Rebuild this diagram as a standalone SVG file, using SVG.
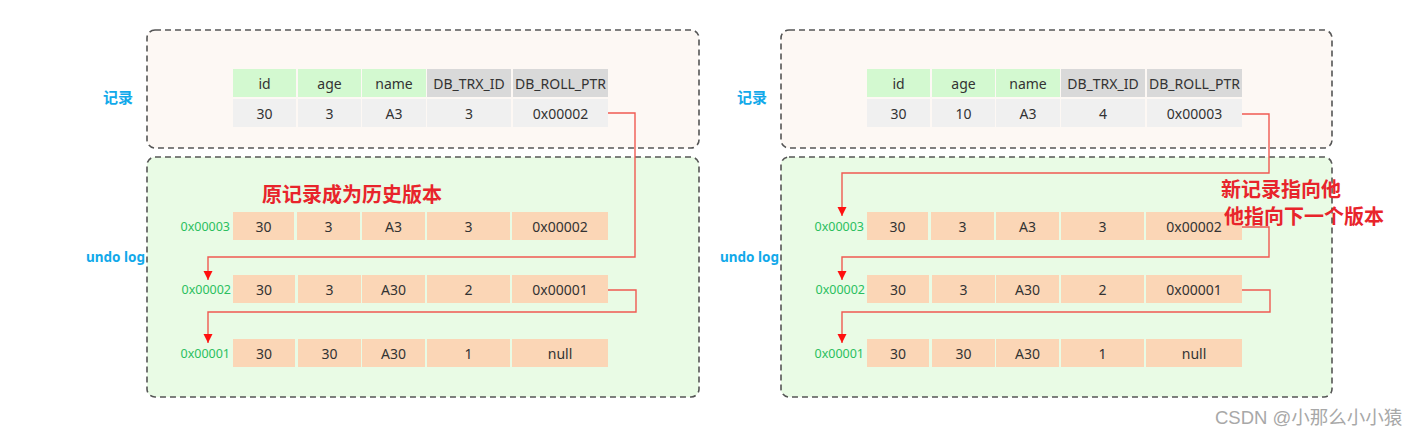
<svg xmlns="http://www.w3.org/2000/svg" width="1422" height="436" viewBox="0 0 1422 436">
<style>
.bg{fill:#ffffff}
.ptop{fill:#fdf8f4;stroke:#555;stroke-width:1.6;stroke-dasharray:6 4}
.pbot{fill:#e9fbe5;stroke:#555;stroke-width:1.6;stroke-dasharray:6 4}
.hg{fill:#d3f9d0}
.hd{fill:#d9d9d9}
.rw{fill:#f0f0f0}
.uc{fill:#fbd6b6}
.t{font-family:"Noto Sans","Liberation Sans",sans-serif;font-size:14px;fill:#333;text-anchor:middle;dominant-baseline:central}
.addr{font-family:"Noto Sans","Liberation Sans",sans-serif;font-size:12.5px;fill:#2bbf5f;text-anchor:end;dominant-baseline:central}
.side{font-family:"Noto Sans","Noto Sans CJK SC",sans-serif;font-size:13.5px;font-weight:bold;fill:#12a9ea;dominant-baseline:central}
.sidec{font-family:"Noto Sans CJK SC","Noto Sans",sans-serif;font-size:15px;font-weight:bold;fill:#12a9ea;dominant-baseline:central}
.note{font-family:"Noto Sans CJK SC","Noto Sans",sans-serif;font-size:20px;font-weight:bold;fill:#e8242b;dominant-baseline:central}
.wm{font-family:"Liberation Sans","Noto Sans CJK SC",sans-serif;font-size:18.5px;fill:#a8a8a8;dominant-baseline:central}
.ln{fill:none;stroke:#ef5a52;stroke-width:1.4}
</style>
<defs>
<marker id="ah" markerUnits="userSpaceOnUse" markerWidth="10" markerHeight="10" refX="9" refY="5" orient="auto">
<path d="M0,0.5 L9,5 L0,9.5 z" fill="#ff1010"/>
</marker>
<g id="hdr">
<rect class="hg" x="233" y="69" width="63" height="28"/>
<rect class="hg" x="298" y="69" width="63" height="28"/>
<rect class="hg" x="362" y="69" width="64" height="28"/>
<rect class="hd" x="427" y="69" width="84" height="28"/>
<rect class="hd" x="513" y="69" width="95" height="28"/>
<text class="t" x="264.5" y="83">id</text>
<text class="t" x="329.5" y="83">age</text>
<text class="t" x="394" y="83">name</text>
<text class="t" x="469" y="83">DB_TRX_ID</text>
<text class="t" x="560.5" y="83">DB_ROLL_PTR</text>
</g>
</defs>
<rect class="bg" x="0" y="0" width="1422" height="436"/>

<!-- LEFT -->
<g id="left-record">
<rect class="ptop" x="147" y="30" width="552" height="118" rx="8"/>
<text class="sidec" x="103" y="96">记录</text>
<use href="#hdr"/>
<rect class="rw" x="233" y="99" width="63" height="28"/>
<rect class="rw" x="298" y="99" width="63" height="28"/>
<rect class="rw" x="362" y="99" width="64" height="28"/>
<rect class="rw" x="427" y="99" width="84" height="28"/>
<rect class="rw" x="513" y="99" width="95" height="28"/>
<text class="t" x="264.5" y="113">30</text>
<text class="t" x="329.5" y="113">3</text>
<text class="t" x="394" y="113">A3</text>
<text class="t" x="469" y="113">3</text>
<text class="t" x="560.5" y="113">0x00002</text>
</g>
<g id="left-undo">
<rect class="pbot" x="147" y="157" width="552" height="240" rx="8"/>
<text class="side" x="86" y="257">undo log</text>
<text class="note" x="262" y="193">原记录成为历史版本</text>
</g>
<g id="left-u3">
<text class="addr" x="230" y="226">0x00003</text>
<rect class="uc" x="233" y="212" width="61" height="28"/><rect class="uc" x="297" y="212" width="63" height="28"/><rect class="uc" x="362" y="212" width="63" height="28"/><rect class="uc" x="427" y="212" width="83" height="28"/><rect class="uc" x="512" y="212" width="96" height="28"/>
<text class="t" x="263.5" y="226">30</text><text class="t" x="328.5" y="226">3</text><text class="t" x="393.5" y="226">A3</text><text class="t" x="468.5" y="226">3</text><text class="t" x="560" y="226">0x00002</text>
</g>
<g id="left-u2">
<text class="addr" x="231" y="289">0x00002</text>
<rect class="uc" x="233" y="275" width="62" height="28"/><rect class="uc" x="298" y="275" width="63" height="28"/><rect class="uc" x="362" y="275" width="63" height="28"/><rect class="uc" x="427" y="275" width="83" height="28"/><rect class="uc" x="512" y="275" width="96" height="28"/>
<text class="t" x="264" y="289">30</text><text class="t" x="329.5" y="289">3</text><text class="t" x="393.5" y="289">A30</text><text class="t" x="468.5" y="289">2</text><text class="t" x="560" y="289">0x00001</text>
</g>
<g id="left-u1">
<text class="addr" x="230" y="353">0x00001</text>
<rect class="uc" x="233" y="339" width="62" height="28"/><rect class="uc" x="298" y="339" width="63" height="28"/><rect class="uc" x="362" y="339" width="63" height="28"/><rect class="uc" x="427" y="339" width="83" height="28"/><rect class="uc" x="512" y="339" width="96" height="28"/>
<text class="t" x="264" y="353">30</text><text class="t" x="329.5" y="353">30</text><text class="t" x="393.5" y="353">A30</text><text class="t" x="468.5" y="353">1</text><text class="t" x="560" y="353">null</text>
</g>

<!-- RIGHT -->
<g id="right-record">
<rect class="ptop" x="781" y="30" width="551" height="118" rx="8"/>
<text class="sidec" x="737" y="96">记录</text>
<use href="#hdr" transform="translate(634,0)"/>
<rect class="rw" x="867" y="99" width="63" height="28"/>
<rect class="rw" x="932" y="99" width="63" height="28"/>
<rect class="rw" x="996" y="99" width="64" height="28"/>
<rect class="rw" x="1061" y="99" width="84" height="28"/>
<rect class="rw" x="1147" y="99" width="95" height="28"/>
<text class="t" x="898.5" y="113">30</text>
<text class="t" x="963.5" y="113">10</text>
<text class="t" x="1028" y="113">A3</text>
<text class="t" x="1103" y="113">4</text>
<text class="t" x="1194.5" y="113">0x00003</text>
</g>
<g id="right-undo">
<rect class="pbot" x="781" y="157" width="551" height="240" rx="8"/>
<text class="side" x="720" y="257">undo log</text>
</g>
<g id="right-u3">
<text class="addr" x="864" y="226">0x00003</text>
<rect class="uc" x="867" y="212" width="61" height="28"/><rect class="uc" x="931" y="212" width="63" height="28"/><rect class="uc" x="996" y="212" width="63" height="28"/><rect class="uc" x="1061" y="212" width="83" height="28"/><rect class="uc" x="1146" y="212" width="96" height="28"/>
<text class="t" x="897.5" y="226">30</text><text class="t" x="962.5" y="226">3</text><text class="t" x="1027.5" y="226">A3</text><text class="t" x="1102.5" y="226">3</text><text class="t" x="1194" y="226">0x00002</text>
</g>
<g id="right-u2">
<text class="addr" x="865" y="289">0x00002</text>
<rect class="uc" x="867" y="275" width="62" height="28"/><rect class="uc" x="932" y="275" width="63" height="28"/><rect class="uc" x="996" y="275" width="63" height="28"/><rect class="uc" x="1061" y="275" width="83" height="28"/><rect class="uc" x="1146" y="275" width="96" height="28"/>
<text class="t" x="898" y="289">30</text><text class="t" x="963.5" y="289">3</text><text class="t" x="1027.5" y="289">A30</text><text class="t" x="1102.5" y="289">2</text><text class="t" x="1194" y="289">0x00001</text>
</g>
<g id="right-u1">
<text class="addr" x="864" y="353">0x00001</text>
<rect class="uc" x="867" y="339" width="62" height="28"/><rect class="uc" x="932" y="339" width="63" height="28"/><rect class="uc" x="996" y="339" width="63" height="28"/><rect class="uc" x="1061" y="339" width="83" height="28"/><rect class="uc" x="1146" y="339" width="96" height="28"/>
<text class="t" x="898" y="353">30</text><text class="t" x="963.5" y="353">30</text><text class="t" x="1027.5" y="353">A30</text><text class="t" x="1102.5" y="353">1</text><text class="t" x="1194" y="353">null</text>
</g>

<g id="connectors">
<path class="ln" d="M608,113 H635 V257 H208 V280" marker-end="url(#ah)"/>
<path class="ln" d="M608,290 H636 V312 H208 V343" marker-end="url(#ah)"/>
<path class="ln" d="M1242,114 H1269 V173 H842 V216" marker-end="url(#ah)"/>
<path class="ln" d="M1242,227 H1269 V257 H842 V280" marker-end="url(#ah)"/>
<path class="ln" d="M1242,290 H1270 V312 H842 V343" marker-end="url(#ah)"/>
</g>

<g id="right-note">
<text class="note" x="1221" y="188">新记录指向他</text>
<text class="note" x="1224" y="215">他指向下一个版本</text>
</g>
<text class="wm" x="1215" y="417">CSDN @小那么小小猿</text>
</svg>
